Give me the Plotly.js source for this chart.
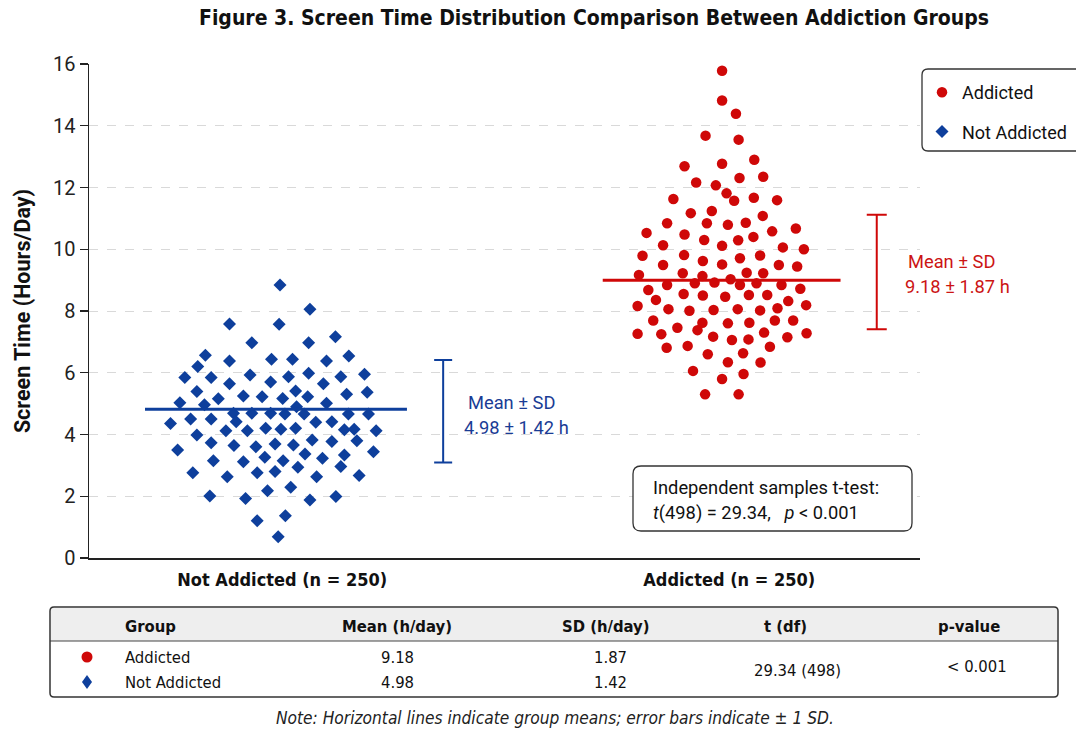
<!DOCTYPE html>
<html>
<head>
<meta charset="utf-8">
<script src="https://cdn.plot.ly/plotly-3.0.1.min.js"></script>
<style>
  html, body { margin: 0; padding: 0; background: #ffffff; }
  #chart { width: 1076px; height: 731px; }
</style>
</head>
<body>
<div id="chart"></div>
<script>
// ---------------- DATA ----------------
const categories = ['Not Addicted (n = 250)', 'Addicted (n = 250)'];
const groupNames = ['Addicted', 'Not Addicted'];

// Addicted group: horizontal jitter (category units) and screen time (h/day)
const addictedJitter = [
  -0.011,-0.011,0.020,-0.048,0.026,-0.095,-0.011,0.061,-0.069,-0.025,0.028,0.081,-0.001,-0.120,0.016,0.060,0.112,
  -0.081,-0.034,-0.045,0.002,0.042,0.080,0.154,-0.180,-0.134,-0.095,-0.051,-0.011,0.025,0.059,0.101,0.125,0.172,
  -0.143,-0.189,-0.143,-0.096,-0.054,-0.011,0.029,0.074,0.116,0.157,-0.197,-0.099,-0.055,-0.028,0.008,0.044,0.081,
  0.029,0.066,-0.072,0.122,-0.134,-0.176,-0.159,-0.097,-0.054,-0.004,0.049,0.090,0.164,-0.200,-0.131,-0.084,-0.030,
  0.024,0.074,0.113,0.137,0.177,-0.165,-0.111,-0.066,-0.055,0.002,0.050,0.107,0.148,-0.200,-0.147,-0.031,0.011,
  0.048,0.083,0.135,0.178,-0.135,-0.088,-0.043,0.036,0.096,0.002,0.075,-0.076,-0.011,0.037,-0.049,0.026
];
const addictedHours = [
  15.78,14.82,14.39,13.68,13.55,12.69,12.77,12.90,12.16,12.07,12.31,12.35,11.81,11.63,11.57,11.67,11.59,
  11.17,11.24,10.84,10.79,10.86,11.08,10.67,10.53,10.84,10.48,10.30,10.11,10.29,10.40,10.58,10.06,10.00,
  10.13,9.79,9.49,9.81,9.62,9.51,9.71,9.80,9.49,9.44,9.17,9.22,9.13,8.92,9.03,9.24,9.22,
  8.84,8.90,8.90,8.84,8.84,8.68,8.36,8.55,8.50,8.46,8.52,8.52,8.72,8.16,8.06,8.01,8.03,
  8.06,8.02,8.09,8.32,8.19,7.69,7.46,7.38,7.62,7.60,7.62,7.69,7.69,7.26,7.25,7.17,7.06,
  7.08,7.30,7.15,7.28,6.81,6.87,6.60,6.63,6.84,6.34,6.33,6.06,5.80,5.96,5.30,5.30
];

// Not Addicted group
const notAddictedJitter = [
  0.000,0.067,-0.113,-0.002,-0.063,0.064,0.124,-0.167,-0.113,-0.019,0.028,0.104,0.154,-0.184,-0.213,-0.154,
  -0.067,-0.021,0.019,0.064,0.136,0.189,-0.113,0.097,-0.186,-0.138,-0.082,-0.040,0.006,0.035,0.062,0.149,
  0.195,-0.224,-0.169,0.104,-0.104,-0.063,-0.021,0.011,0.037,0.054,0.153,0.198,-0.245,-0.200,-0.154,-0.098,
  0.080,0.116,0.215,-0.121,-0.073,-0.032,0.002,0.035,0.144,0.166,-0.186,-0.229,-0.154,-0.103,-0.054,-0.011,
  0.030,0.072,0.116,0.172,0.209,-0.149,-0.082,-0.034,0.007,0.056,0.095,0.144,-0.195,-0.118,-0.051,-0.011,
  0.040,0.082,0.136,0.177,-0.157,-0.077,-0.028,0.024,0.067,0.125,-0.051,0.012,-0.004
];
const notAddictedHours = [
  8.84,8.06,7.58,7.57,6.97,6.97,7.17,6.57,6.38,6.44,6.44,6.38,6.54,6.20,5.85,5.85,
  5.93,5.70,5.87,5.98,5.87,5.95,5.64,5.64,5.39,5.16,5.25,5.22,5.17,5.41,5.22,5.30,
  5.37,5.03,4.96,5.01,4.69,4.69,4.69,4.66,4.90,4.66,4.66,4.66,4.36,4.50,4.50,4.41,
  4.40,4.41,4.12,4.12,4.12,4.20,4.17,4.20,4.15,4.17,3.98,3.50,3.73,3.64,3.60,3.69,
  3.66,3.82,3.77,3.80,3.44,3.15,3.12,3.26,3.15,3.37,3.23,3.34,2.76,2.63,2.76,2.80,
  2.94,2.63,2.96,2.67,2.01,1.93,2.18,2.29,1.88,1.99,1.21,1.37,0.69
];

// Drawn mean lines and ± SD bars [Not Addicted, Addicted]
const meanLineHours = [4.82, 9.00];
const sdBarLow  = [3.09, 7.41];
const sdBarHigh = [6.41, 11.12];
const meanLabels = ['4.98 ± 1.42 h', '9.18 ± 1.87 h'];

// Summary table
const tableHeaders = ['Group', 'Mean (h/day)', 'SD (h/day)', 't (df)', 'p-value'];
const tableMeans = ['9.18', '4.98'];
const tableSDs = ['1.87', '1.42'];
const tableT = '29.34 (498)';
const tableP = '< 0.001';

const yTicks = [0, 2, 4, 6, 8, 10, 12, 14, 16];

// ---------------- STYLE / LAYOUT ----------------
const RED = '#cf0808';
const BLUE = '#0e3f9c';
const BLUE_TXT = '#1a3c95';
const RED_TXT = '#cc1414';
const NARROW = '"Liberation Sans Narrow", "DejaVu Sans Condensed", Roboto, Arial, sans-serif';
const NORMAL = 'Roboto, "Liberation Sans", Arial, sans-serif';

const L = 89, R = 920, T = 64, B = 558, W = 1076, H = 731;
const fx = px => (px - L) / (R - L);
const fy = py => (B - py) / (B - T);

function roundRect(x0, y0, x1, y1, r) {
  const a = fx(x0), b = fx(x1), c = fy(y0), d = fy(y1);
  const rx = r / (R - L), ry = r / (B - T);
  return `M ${a + rx} ${c} L ${b - rx} ${c} Q ${b} ${c} ${b} ${c - ry} ` +
         `L ${b} ${d + ry} Q ${b} ${d} ${b - rx} ${d} L ${a + rx} ${d} ` +
         `Q ${a} ${d} ${a} ${d + ry} L ${a} ${c - ry} Q ${a} ${c} ${a + rx} ${c} Z`;
}

const traces = [
  {
    type: 'scatter', mode: 'markers', name: groupNames[0], legendgroup: 'a',
    x: addictedJitter.map(v => 1 + v), y: addictedHours,
    marker: { symbol: 'circle', size: 10.5, color: RED },
    hoverinfo: 'y'
  },
  {
    type: 'scatter', mode: 'markers', name: groupNames[1], legendgroup: 'b',
    x: notAddictedJitter.map(v => 0 + v), y: notAddictedHours,
    marker: { symbol: 'diamond', size: 10, color: BLUE },
    hoverinfo: 'y'
  },
  {
    type: 'scatter', mode: 'lines', showlegend: false, hoverinfo: 'skip',
    x: [0 - 0.302, 0 + 0.284], y: [meanLineHours[0], meanLineHours[0]],
    line: { color: BLUE, width: 3 }
  },
  {
    type: 'scatter', mode: 'lines', showlegend: false, hoverinfo: 'skip',
    x: [1 - 0.278, 1 + 0.254], y: [meanLineHours[1], meanLineHours[1]],
    line: { color: RED, width: 3 }
  },
  {
    type: 'scatter', mode: 'markers', showlegend: false, hoverinfo: 'skip',
    x: [0 + 0.365], y: [(sdBarLow[0] + sdBarHigh[0]) / 2],
    marker: { size: 1, color: 'rgba(0,0,0,0)' },
    error_y: { type: 'data', array: [(sdBarHigh[0] - sdBarLow[0]) / 2], color: BLUE, thickness: 2, width: 9 }
  },
  {
    type: 'scatter', mode: 'markers', showlegend: false, hoverinfo: 'skip', cliponaxis: false,
    x: [1 + 0.335], y: [(sdBarLow[1] + sdBarHigh[1]) / 2],
    marker: { size: 1, color: 'rgba(0,0,0,0)' },
    error_y: { type: 'data', array: [(sdBarHigh[1] - sdBarLow[1]) / 2], color: RED, thickness: 2, width: 10 }
  }
];

const shapes = [
  // legend box
  { type: 'path', xref: 'paper', yref: 'paper', path: roundRect(922, 69, 1110, 151, 6),
    line: { color: '#333', width: 1.3 }, fillcolor: 'white', layer: 'above' },
  // t-test box
  { type: 'path', xref: 'paper', yref: 'paper', path: roundRect(633, 466, 912, 531, 8),
    line: { color: '#333', width: 1.3 }, fillcolor: 'white', layer: 'above' },
  // table header fill
  { type: 'rect', xref: 'paper', yref: 'paper', x0: fx(51), x1: fx(1057), y0: fy(608), y1: fy(641),
    line: { width: 0 }, fillcolor: '#eeeeee' },
  // header separator
  { type: 'line', xref: 'paper', yref: 'paper', x0: fx(50), x1: fx(1058), y0: fy(641), y1: fy(641),
    line: { color: '#444', width: 1.2 } },
  // table border
  { type: 'path', xref: 'paper', yref: 'paper', path: roundRect(50, 607, 1058, 697, 4),
    line: { color: '#333', width: 1.5 } },
  // table markers
  { type: 'circle', xref: 'paper', yref: 'paper', x0: fx(81.5), x1: fx(92.5), y0: fy(651.5), y1: fy(662.5),
    line: { width: 0 }, fillcolor: RED },
  { type: 'path', xref: 'paper', yref: 'paper',
    path: `M ${fx(87)} ${fy(675)} L ${fx(92)} ${fy(682)} L ${fx(87)} ${fy(689)} L ${fx(82)} ${fy(682)} Z`,
    line: { width: 0 }, fillcolor: BLUE }
];

function ann(px, py, text, opts) {
  return Object.assign({
    xref: 'paper', yref: 'paper', x: fx(px), y: fy(py), text: text, showarrow: false,
    xanchor: 'center', yanchor: 'middle',
    font: { family: NARROW, size: 17, color: '#111' }
  }, opts || {});
}

const boldNarrow = { family: NARROW, size: 16.5, color: '#111', weight: 700 };
const narrow = { family: NARROW, size: 16.5, color: '#111' };
const normalTxt = { family: NORMAL, size: 18.3, color: '#111' };
const blueTxt = { family: NORMAL, size: 18.3, color: BLUE_TXT };
const redTxt = { family: NORMAL, size: 18.3, color: RED_TXT };

const annotations = [
  // mean ± SD labels
  ann(511, 402, 'Mean ± SD', { font: blueTxt }),
  ann(516, 427, meanLabels[0], { font: blueTxt }),
  ann(951, 261, 'Mean ± SD', { font: redTxt }),
  ann(957, 286, meanLabels[1], { font: redTxt }),
  // t-test
  ann(651, 487, 'Independent samples t-test:', { xanchor: 'left', font: normalTxt }),
  ann(651, 513, '<i>t</i>(498) = 29.34,\u00a0\u00a0\u00a0<i>p</i> &lt; 0.001', { xanchor: 'left', font: normalTxt }),
  // table headers
  ann(150, 626, tableHeaders[0], { font: boldNarrow }),
  ann(397, 626, tableHeaders[1], { font: boldNarrow }),
  ann(606, 626, tableHeaders[2], { font: boldNarrow }),
  ann(785, 626, tableHeaders[3], { font: boldNarrow }),
  ann(969, 626, tableHeaders[4], { font: boldNarrow }),
  // table rows
  ann(123, 657, groupNames[0], { xanchor: 'left', font: narrow }),
  ann(123, 682, groupNames[1], { xanchor: 'left', font: narrow }),
  ann(397, 657, tableMeans[0], { font: narrow }),
  ann(397, 682, tableMeans[1], { font: narrow }),
  ann(610, 657, tableSDs[0], { font: narrow }),
  ann(610, 682, tableSDs[1], { font: narrow }),
  ann(797, 670, tableT, { font: narrow }),
  ann(977, 666, tableP, { font: narrow }),
  // note
  ann(555, 718, '<i>Note: Horizontal lines indicate group means; error bars indicate ± 1 SD.</i>',
      { font: { family: NARROW, size: 17.2, color: '#222' } })
];

const layout = {
  width: W, height: H,
  margin: { l: L, r: W - R, t: T, b: H - B, pad: 0, autoexpand: false },
  paper_bgcolor: 'white', plot_bgcolor: 'white',
  title: {
    text: '<b>Figure 3. Screen Time Distribution Comparison Between Addiction Groups</b>',
    xref: 'container', yref: 'container', x: 594 / W, y: 1 - 18 / H,
    xanchor: 'center', yanchor: 'middle',
    font: { family: NARROW, size: 21, color: '#111' }
  },
  xaxis: {
    range: [-(280 - L) / 447, -(280 - L) / 447 + (R - L) / 447],
    tickvals: [0.005, 1.005], ticktext: categories,
    tickfont: { family: NARROW, size: 18, color: '#111', weight: 700 },
    ticks: 'outside', ticklen: 5, tickcolor: 'rgba(0,0,0,0)', showgrid: false, zeroline: false,
    showline: true, linecolor: '#222', linewidth: 1.5,
    fixedrange: true, automargin: false
  },
  yaxis: {
    range: [0, 16], tickvals: yTicks,
    title: { text: '<b>Screen Time (Hours/Day)</b>', font: { family: NORMAL, size: 21.5, color: '#111' }, standoff: 16 },
    tickfont: { family: NORMAL, size: 20, color: '#222' },
    ticks: 'outside', ticklen: 8, tickwidth: 1.3, tickcolor: '#222',
    showline: true, linecolor: '#222', linewidth: 1.5,
    showgrid: true, gridcolor: '#d9d9d9', griddash: 'dash', gridwidth: 1,
    zeroline: false, fixedrange: true, automargin: false
  },
  legend: {
    x: fx(922), y: fy(74), xanchor: 'left', yanchor: 'top',
    bgcolor: 'rgba(0,0,0,0)', borderwidth: 0,
    font: { family: NORMAL, size: 18, color: '#111' },
    traceorder: 'grouped', tracegroupgap: 13
  },
  shapes: shapes,
  annotations: annotations,
  showlegend: true
};

Plotly.newPlot('chart', traces, layout, { displayModeBar: false, staticPlot: true });
</script>
</body>
</html>
